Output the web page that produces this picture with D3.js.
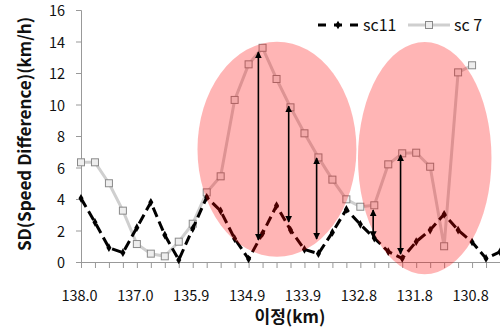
<!DOCTYPE html>
<html><head><meta charset="utf-8">
<script src="https://cdn.jsdelivr.net/npm/d3@7"></script>
<style>body{margin:0;background:#fff}svg{display:block}text{font-family:"Noto Sans CJK KR","Open Sans",sans-serif}</style>
</head><body><svg id="c" width="500" height="333"></svg>
<script>
const categories = ["138.0","137.7","137.5","137.2","137.0","136.7","136.4","136.2","135.9","135.7","135.4","135.2","134.9","134.7","134.4","134.2","133.9","133.6","133.3","133.1","132.8","132.6","132.3","132.1","131.8","131.6","131.3","131.1","130.8","130.6","130.3"];
const sc11 = [4.04,2.52,0.91,0.59,2.18,3.79,1.71,0.13,2.12,4.11,3.24,1.48,0.19,1.82,3.58,2.03,0.8,0.53,1.88,3.34,2.39,1.52,0.66,0.23,1.29,2.03,3.03,2.03,1.27,0.23,0.65];
const sc7 = [6.33,6.33,5.0,3.26,1.14,0.53,0.36,1.29,2.43,4.42,5.44,10.29,12.55,13.6,11.62,9.82,8.17,6.64,5.23,3.98,3.51,3.6,6.2,6.9,6.94,6.05,1.0,12.04,12.49];
const yTicks = [0,2,4,6,8,10,12,14,16];
const labelEvery = 4;
// annotation arrows: [category position, from value, to value]
const arrows = [[12.7,13.33,1.4],[14.87,9.9,2.54],[16.87,6.6,1.46],[20.92,3.3,1.55],[22.88,6.8,0.5]];
// highlight ellipses: [centre position, centre value, half-width in categories, half-height in values]
const ellipses = [[14.03,7.16,5.69,6.83],[24.61,6.6,4.78,7.37]];

const svg = d3.select("#c");
const x0 = 81, x1 = 500;
const x = d3.scaleLinear().domain([0, categories.length-1]).range([x0, x1]);
const y = d3.scaleLinear().domain([0,16]).range([262,10]);

// axes
const gy = svg.append("g").attr("transform",`translate(${x0},0)`)
  .call(d3.axisLeft(y).tickValues(yTicks).tickSize(5).tickPadding(11));
gy.select(".domain").attr("stroke","#999");
gy.selectAll(".tick line").attr("stroke","#999");
gy.selectAll(".tick text").attr("font-size",14.5).attr("fill","#111").attr("font-family","Open Sans, sans-serif").attr("dy","0.38em");

const gx = svg.append("g").attr("transform",`translate(0,262)`)
  .call(d3.axisBottom(x).tickValues(d3.range(categories.length)).tickSize(6).tickSizeOuter(0)
    .tickFormat(i => i % labelEvery === 0 ? categories[i] : ""));
gx.select(".domain").attr("stroke","#999");
gx.selectAll(".tick line").attr("stroke","#999");
gx.selectAll(".tick text").attr("font-size",14.5).attr("fill","#111").attr("dy","2.05em").attr("dx",-2)
  .attr("font-family","Open Sans, sans-serif");

const line = d3.line().x((d,i)=>x(i)).y(d=>y(d));
// sc7
svg.append("path").datum(sc7).attr("d",line).attr("fill","none").attr("stroke","#cfcfcf").attr("stroke-width",3).attr("stroke-linejoin","round");
svg.selectAll(".sq").data(sc7).join("rect").attr("x",(d,i)=>x(i)-3.5).attr("y",d=>y(d)-3.5)
  .attr("width",7).attr("height",7).attr("fill","#eeeeee").attr("stroke","#8a8a8a").attr("stroke-width",1);
// sc11
svg.append("path").datum(sc11).attr("d",line).attr("fill","none").attr("stroke","#000").attr("stroke-width",3)
  .attr("stroke-dasharray","10,5");
const diamond = d3.symbol().type(d3.symbolDiamond).size(22);
svg.selectAll(".dm").data(sc11).join("path").attr("d",diamond)
  .attr("transform",(d,i)=>`translate(${x(i)},${y(d)})`).attr("fill","#000");

// ellipses
svg.selectAll(".el").data(ellipses).join("ellipse")
  .attr("cx",d=>x(d[0])).attr("cy",d=>y(d[1]))
  .attr("rx",d=>x(d[2])-x(0)).attr("ry",d=>y(0)-y(d[3]))
  .attr("fill","rgb(255,0,0)").attr("fill-opacity",0.29);

// arrows
const defs = svg.append("defs");
defs.append("marker").attr("id","ah").attr("viewBox","0 0 10 10").attr("refX",9).attr("refY",5)
  .attr("markerWidth",7).attr("markerHeight",7).attr("orient","auto-start-reverse").attr("markerUnits","userSpaceOnUse")
  .append("path").attr("d","M0,0L10,5L0,10z").attr("fill","#000");
svg.selectAll(".ar").data(arrows).join("line")
  .attr("x1",d=>x(d[0])).attr("x2",d=>x(d[0])).attr("y1",d=>y(d[1])).attr("y2",d=>y(d[2]))
  .attr("stroke","#000").attr("stroke-width",1.6)
  .attr("marker-start","url(#ah)").attr("marker-end","url(#ah)");

// legend
const lg = svg.append("g");
lg.append("line").attr("x1",318).attr("x2",358).attr("y1",25).attr("y2",25).attr("stroke","#000").attr("stroke-width",3).attr("stroke-dasharray","8,8");
lg.append("path").attr("d",diamond).attr("transform","translate(338,25)");
lg.append("text").attr("x",363).attr("y",31).attr("font-size",16).attr("fill","#111").attr("font-family","Open Sans, sans-serif").text("sc11");
lg.append("line").attr("x1",408).attr("x2",450).attr("y1",25).attr("y2",25).attr("stroke","#cfcfcf").attr("stroke-width",3);
lg.append("rect").attr("x",425.5).attr("y",21.5).attr("width",7).attr("height",7).attr("fill","#eee").attr("stroke","#8a8a8a");
lg.append("text").attr("x",454).attr("y",31).attr("font-size",16).attr("fill","#111").attr("font-family","Open Sans, sans-serif").text("sc 7");

// titles
svg.append("text").attr("transform","translate(31,134) rotate(-90)").attr("text-anchor","middle")
  .attr("font-size",17).attr("font-weight","bold").attr("fill","#111").text("SD(Speed Difference)(km/h)");
svg.append("text").attr("x",290).attr("y",323).attr("text-anchor","middle")
  .attr("font-size",17).attr("font-weight","bold").attr("fill","#111").text("이정(km)");
</script></body></html>
